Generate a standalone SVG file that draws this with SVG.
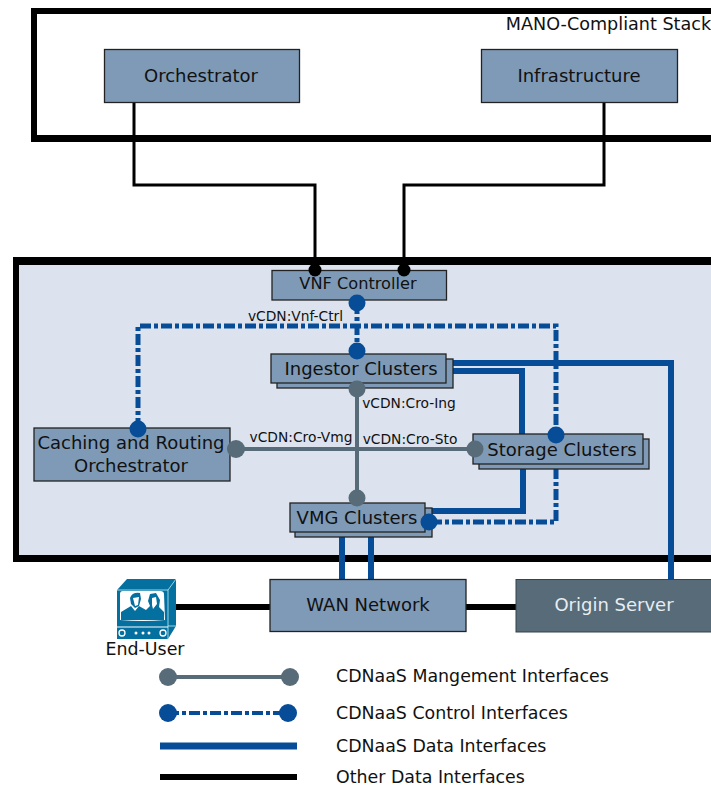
<svg xmlns="http://www.w3.org/2000/svg" width="711" height="787" viewBox="0 0 711 787">
<style>
text{font-family:"DejaVu Sans",sans-serif;fill:#111;text-anchor:middle}
.b{fill:#7f9ab6;stroke:#222;stroke-width:1.3}
.t{font-size:18px}
.l{font-size:13.8px}
.k{font-size:17.4px;text-anchor:start}
.g{fill:none;stroke:#576b78;stroke-width:4}
.c{fill:none;stroke:#064c96;stroke-width:5;stroke-dasharray:11 3 4 3}
.d{fill:none;stroke:#064c96;stroke-width:6}
.o{fill:none;stroke:#000;stroke-width:3}
.o2{fill:none;stroke:#000;stroke-width:6}
.gd{fill:#576b78}.cd{fill:#064c96}
</style>
<g id="mano">
<path fill="#000" d="M31 8H711V142H31Z"/><path fill="#fff" d="M37 14H711V135H37Z"/>
<text x="608.500" y="30" style="font-size:17.6px">MANO-Compliant Stack</text>
</g>
<g id="vcdn-frame"><path fill="#000" d="M13 257H711V562H13Z"/><path fill="#dce3ee" d="M19 265H711V555H19Z"/></g>
<g id="connectors">
<path class="o" d="M134 102V185H315V270"/>
<path class="o" d="M604 102V185H404V270"/>
<path class="c" d="M357 303V351"/>
<path class="c" d="M138 429V326H556V435"/>
<path class="c" d="M556 468V522H429"/>
<path class="d" d="M453 363H671V580"/>
<path class="d" d="M453 371H522V435"/>
<path class="d" d="M523 467V511H431"/>
<path class="d" d="M342 530V580M371 530V580"/>
<path class="g" d="M236 449H475M357 389V498"/>
<path class="o2" d="M176 607H270M466 607H516"/>
</g>
<g id="orchestrator"><rect class="b" x="104.500" y="49.500" width="195" height="53"/><text class="t" x="201" y="82">Orchestrator</text></g>
<g id="infrastructure"><rect class="b" x="481.500" y="49.500" width="196" height="53"/><text class="t" x="579" y="82">Infrastructure</text></g>
<g id="vnf-controller"><rect class="b" x="272" y="270.500" width="174.500" height="29.500"/><text class="t" x="358" y="289" style="font-size:16.2px">VNF Controller</text></g>
<g id="ingestor"><rect class="b" x="277" y="359" width="176" height="29"/><rect class="b" x="271" y="354" width="175" height="29"/><text class="t" x="361" y="375">Ingestor Clusters</text></g>
<g id="caching"><rect class="b" x="34" y="428" width="196" height="53"/><text class="t" x="131" y="449">Caching and Routing</text><text class="t" x="131" y="472">Orchestrator</text></g>
<g id="storage"><rect class="b" x="479" y="439" width="170" height="30"/><rect class="b" x="473" y="434" width="170" height="30"/><text class="t" x="562" y="456">Storage Clusters</text></g>
<g id="vmg"><rect class="b" x="295" y="508" width="137" height="29"/><rect class="b" x="290" y="503" width="135" height="29"/><text class="t" x="357" y="524">VMG Clusters</text></g>
<g id="wan"><rect class="b" x="270" y="579.500" width="196" height="52"/><text class="t" x="368" y="611">WAN Network</text></g>
<g id="origin"><rect x="516" y="579.500" width="210" height="52.500" fill="#576b78" stroke="#33424c"/><text class="t" x="614" y="611" style="fill:#e8edf2">Origin Server</text></g>
<g id="end-user">
<path d="M117 590L127 579H176V626L168 639H117Z" fill="#04709f"/>
<path d="M117 590H168V626H176M168 590L176 579M168 626V639" fill="none" stroke="#dff" stroke-width=".7"/>
<path d="M120 594Q120 591 123 591H160Q164 591 164 594L165 620Q143 622 120 620Z" fill="#fff"/>
<path d="M121 620V612L131 606L135 611L139 606L146 610L150 606L148 601L150 594L156 593L160 600L159 607L164 612V620Z" fill="#04709f"/>
<path d="M130 598Q132 592 140 593L141 599L139 606L135 608L131 604Z" fill="#04709f"/>
<path d="M133 598L139 597L138 605L135 606ZM152 598L156 597L157 604L153 609L152 605Z" fill="#fff"/>
<path d="M117 627H168" stroke="#fff"/>
<circle cx="122" cy="633" r="3" fill="none" stroke="#fff" stroke-width="1.300"/><circle cx="163" cy="633" r="3" fill="none" stroke="#fff" stroke-width="1.300"/>
<circle cx="136" cy="633" r="1.500" fill="#fff"/><circle cx="143" cy="633" r="1.500" fill="#fff"/><circle cx="149" cy="633" r="1.500" fill="#fff"/>
<text x="145" y="655" style="font-size:17.4px">End-User</text>
</g>
<g id="labels">
<text class="l" x="295.500" y="321">vCDN:Vnf-Ctrl</text>
<text class="l" x="301" y="442">vCDN:Cro-Vmg</text>
<text class="l" x="409" y="408">vCDN:Cro-Ing</text>
<text class="l" x="410" y="444">vCDN:Cro-Sto</text>
</g>
<g id="ports">
<circle class="cd" cx="357" cy="303" r="8.500"/><circle class="cd" cx="357" cy="351" r="8.500"/>
<circle class="cd" cx="138" cy="429" r="8.500"/><circle class="cd" cx="556" cy="435" r="8.500"/><circle class="cd" cx="429" cy="522" r="8.500"/>
<circle class="gd" cx="236" cy="449" r="9"/><circle class="gd" cx="475" cy="449" r="8.500"/><circle class="gd" cx="357" cy="389" r="8.500"/><circle class="gd" cx="357" cy="498" r="8.500"/>
<circle cx="315" cy="270" r="6.500"/><circle cx="404" cy="270" r="6.500"/>
</g>
<g id="legend">
<path class="g" d="M168 677H290"/><circle class="gd" cx="168" cy="677" r="9"/><circle class="gd" cx="290" cy="677" r="9"/>
<path class="c" d="M168 713H288" style="stroke-width:4"/><circle class="cd" cx="168" cy="713" r="9"/><circle class="cd" cx="288" cy="713" r="9"/>
<path class="d" d="M160 746H297" style="stroke-width:7"/>
<path class="o2" d="M160 777H297"/>
<text class="k" x="336" y="682">CDNaaS Mangement Interfaces</text>
<text class="k" x="336" y="719">CDNaaS Control Interfaces</text>
<text class="k" x="336" y="752">CDNaaS Data Interfaces</text>
<text class="k" x="336" y="783">Other Data Interfaces</text>
</g>
</svg>
